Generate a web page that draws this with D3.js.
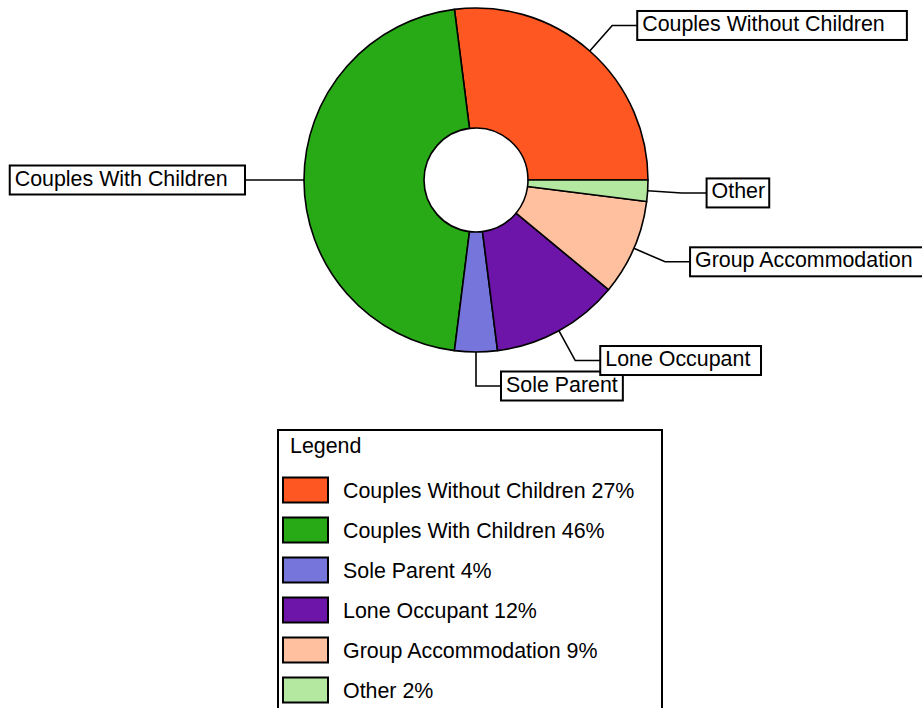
<!DOCTYPE html>
<html>
<head>
<meta charset="utf-8">
<script src="https://cdn.jsdelivr.net/npm/d3@7/dist/d3.min.js"></script>
<style>
  html, body { margin: 0; padding: 0; background: #fff; }
  svg { display: block; }
</style>
</head>
<body>
<svg id="chart" width="922" height="708"></svg>
<script>
const categories = ["Couples Without Children", "Couples With Children", "Sole Parent", "Lone Occupant", "Group Accommodation", "Other"];
const values = [27, 46, 4, 12, 9, 2];
const colors = ["#FF5722", "#28AA16", "#7575DB", "#6C15A8", "#FFC0A0", "#B4E8A0"];
const legendTitle = "Legend";

const FONT = "'Liberation Sans', Arial, sans-serif";
const FS = 21.4;
const svg = d3.select("#chart");
const cx = 476, cy = 180, rOuter = 172, rInner = 52, rBreak = 206, hLen = 25;

const data = categories.map((c, i) => ({ name: c, value: values[i], color: colors[i] }));
const pie = d3.pie().value(d => d.value).sort(null)
  .startAngle(Math.PI / 2).endAngle(Math.PI / 2 - 2 * Math.PI);
const arcs = pie(data);
const arc = d3.arc().innerRadius(rInner).outerRadius(rOuter);

const g = svg.append("g").attr("transform", `translate(${cx},${cy})`);
g.selectAll("path.slice").data(arcs).enter().append("path")
  .attr("class", "slice")
  .attr("d", arc)
  .attr("fill", d => d.data.color)
  .attr("stroke", "#000")
  .attr("stroke-width", 1.6)
  .attr("stroke-linejoin", "round");

// measurement helper (box widths)
const meas = svg.append("text").attr("font-family", "'DejaVu Sans', sans-serif").attr("font-size", 21).attr("visibility", "hidden");
function boxW(t) { meas.text(t); return meas.node().getComputedTextLength() + 3; }

const pt = (a, r) => [r * Math.sin(a), -r * Math.cos(a)];
arcs.forEach(d => {
  const a = (d.startAngle + d.endAngle) / 2;
  const p1 = pt(a, rOuter), p2 = pt(a, rBreak);
  const right = Math.sin(a) > -1e-6;
  const p3 = [p2[0] + (right ? hLen : -hLen), p2[1]];
  const lg = g.append("g");
  lg.append("polyline")
    .attr("points", [p1, p2, p3].map(p => p.join(",")).join(" "))
    .attr("fill", "none").attr("stroke", "#000").attr("stroke-width", 1.6);
  const w = boxW(d.data.name), h = 29;
  const bx = right ? p3[0] : p3[0] - w;
  lg.append("rect").attr("x", bx).attr("y", p3[1] - h / 2).attr("width", w).attr("height", h)
    .attr("fill", "#fff").attr("stroke", "#000").attr("stroke-width", 2);
  lg.append("text").attr("x", bx + 5).attr("y", p3[1] + 5.5)
    .attr("font-family", FONT).attr("font-size", FS).attr("fill", "#000")
    .text(d.data.name);
});
meas.remove();

// legend
const lgX = 278, lgY = 430, lgW = 384, lgH = 292;
const leg = svg.append("g");
leg.append("rect").attr("x", lgX).attr("y", lgY).attr("width", lgW).attr("height", lgH)
  .attr("fill", "#fff").attr("stroke", "#000").attr("stroke-width", 2);
leg.append("text").attr("x", lgX + 12).attr("y", lgY + 23)
  .attr("font-family", FONT).attr("font-size", FS).attr("fill", "#000").text(legendTitle);
const rowY = d3.scalePoint().domain(categories).range([lgY + 60, lgY + 260]);
data.forEach(d => {
  const y = rowY(d.name);
  leg.append("rect").attr("x", lgX + 5).attr("y", y - 12.5).attr("width", 45).attr("height", 25)
    .attr("fill", d.color).attr("stroke", "#000").attr("stroke-width", 2);
  leg.append("text").attr("x", lgX + 65).attr("y", y + 7.5)
    .attr("font-family", FONT).attr("font-size", FS).attr("fill", "#000")
    .text(`${d.name} ${d.value}%`);
});
</script>
</body>
</html>
